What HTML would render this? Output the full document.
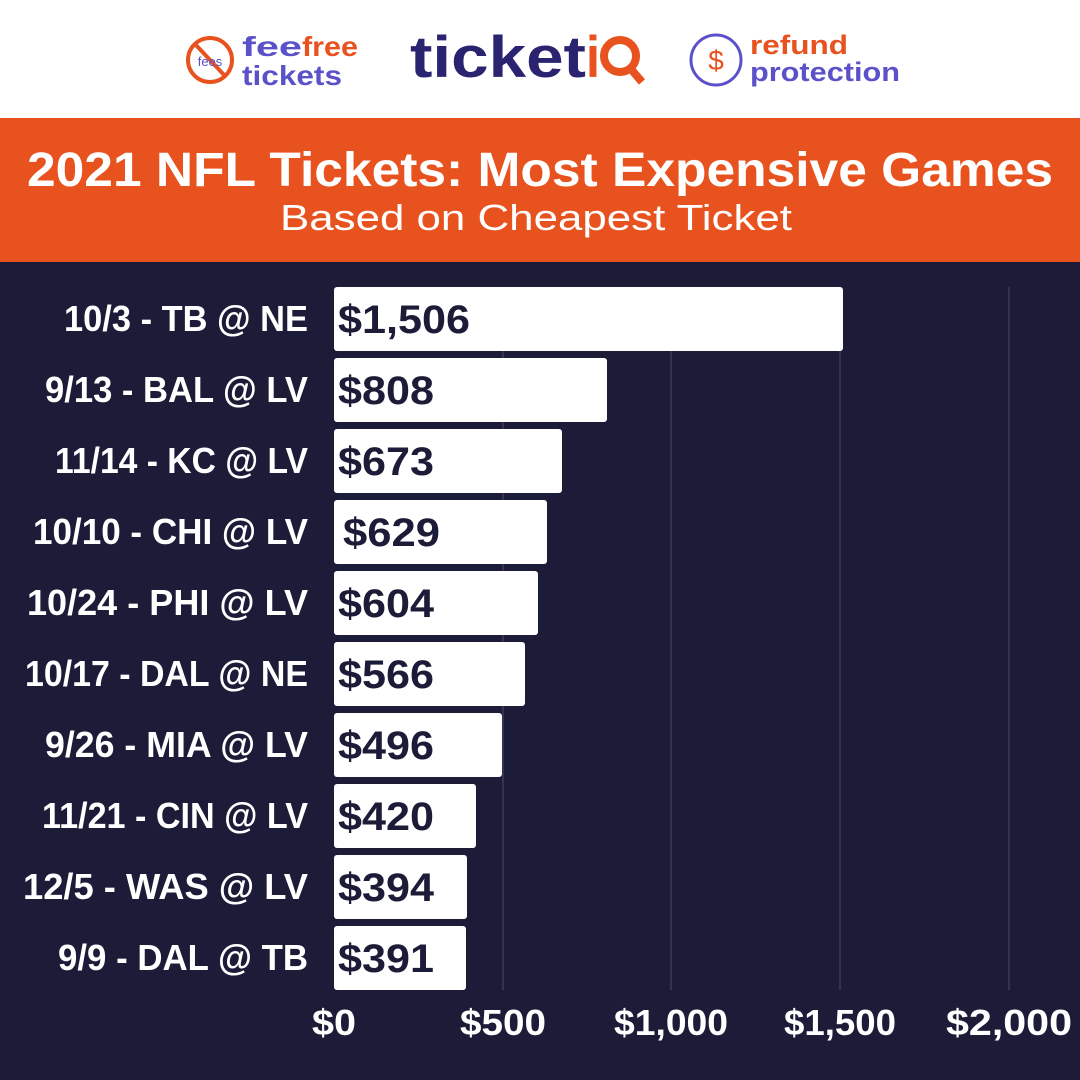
<!DOCTYPE html>
<html><head><meta charset="utf-8"><style>html,body{margin:0;padding:0;width:1080px;height:1080px;overflow:hidden;background:#fff}</style></head>
<body>
<svg width="1080" height="1080" xmlns="http://www.w3.org/2000/svg" font-family="Liberation Sans, sans-serif" font-weight="bold">
<rect x="0" y="0" width="1080" height="118" fill="#fff"/>
<rect x="0" y="118" width="1080" height="145" fill="#E8521E"/>
<rect x="0" y="262" width="1080" height="818" fill="#1D1C38"/>
<!-- logos -->
<circle cx="210" cy="60" r="22" fill="none" stroke="#E8521E" stroke-width="4"/>
<line x1="195" y1="44" x2="225" y2="76" stroke="#E8521E" stroke-width="4"/>
<text x="210" y="66" font-size="13" fill="#5B52C9" text-anchor="middle" font-weight="normal">fees</text>
<text x="242" y="56" font-size="28" fill="#5B52C9" textLength="60" lengthAdjust="spacingAndGlyphs">fee</text>
<text x="302" y="56" font-size="28" fill="#E8521E" textLength="56" lengthAdjust="spacingAndGlyphs">free</text>
<text x="242" y="85" font-size="28" fill="#5B52C9" textLength="100" lengthAdjust="spacingAndGlyphs">tickets</text>
<text x="410" y="77" font-size="58" fill="#2A2470" textLength="176" lengthAdjust="spacingAndGlyphs">ticket</text>
<text x="586" y="77" font-size="58" fill="#E8521E" textLength="14" lengthAdjust="spacingAndGlyphs">i</text>
<circle cx="620" cy="56" r="16" fill="none" stroke="#E8521E" stroke-width="8"/>
<line x1="630" y1="68" x2="642" y2="82" stroke="#E8521E" stroke-width="8"/>
<circle cx="716" cy="60" r="25" fill="none" stroke="#5B52C9" stroke-width="3"/>
<text x="716" y="70" font-size="28" fill="#E8521E" text-anchor="middle" font-weight="normal">$</text>
<text x="750" y="54" font-size="27" fill="#E8521E" textLength="98" lengthAdjust="spacingAndGlyphs">refund</text>
<text x="750" y="81" font-size="27" fill="#5B52C9" textLength="150" lengthAdjust="spacingAndGlyphs">protection</text>
<!-- title -->
<text x="27" y="186" font-size="48" fill="#fff" textLength="1026" lengthAdjust="spacingAndGlyphs">2021 NFL Tickets: Most Expensive Games</text>
<text x="280" y="230" font-size="36" fill="#fff" font-weight="normal" textLength="512" lengthAdjust="spacingAndGlyphs">Based on Cheapest Ticket</text>
<!-- grid -->
<g stroke="#4A4966" stroke-width="1">
<line x1="503" y1="287" x2="503" y2="990"/><line x1="671" y1="287" x2="671" y2="990"/><line x1="840" y1="287" x2="840" y2="990"/><line x1="1009" y1="287" x2="1009" y2="990"/>
</g>
<g fill="#fff">
<rect x="334" y="287" width="509" height="64" rx="3"/>
<rect x="334" y="358" width="273" height="64" rx="3"/>
<rect x="334" y="429" width="228" height="64" rx="3"/>
<rect x="334" y="500" width="213" height="64" rx="3"/>
<rect x="334" y="571" width="204" height="64" rx="3"/>
<rect x="334" y="642" width="191" height="64" rx="3"/>
<rect x="334" y="713" width="168" height="64" rx="3"/>
<rect x="334" y="784" width="142" height="64" rx="3"/>
<rect x="334" y="855" width="133" height="64" rx="3"/>
<rect x="334" y="926" width="132" height="64" rx="3"/>
</g>
<g fill="#fff" font-size="36" text-anchor="end" lengthAdjust="spacingAndGlyphs">
<text x="308" y="331" textLength="244" lengthAdjust="spacingAndGlyphs">10/3 - TB @ NE</text>
<text x="308" y="402" textLength="263" lengthAdjust="spacingAndGlyphs">9/13 - BAL @ LV</text>
<text x="308" y="473" textLength="253" lengthAdjust="spacingAndGlyphs">11/14 - KC @ LV</text>
<text x="308" y="544" textLength="275" lengthAdjust="spacingAndGlyphs">10/10 - CHI @ LV</text>
<text x="308" y="615" textLength="281" lengthAdjust="spacingAndGlyphs">10/24 - PHI @ LV</text>
<text x="308" y="686" textLength="283" lengthAdjust="spacingAndGlyphs">10/17 - DAL @ NE</text>
<text x="308" y="757" textLength="263" lengthAdjust="spacingAndGlyphs">9/26 - MIA @ LV</text>
<text x="308" y="828" textLength="266" lengthAdjust="spacingAndGlyphs">11/21 - CIN @ LV</text>
<text x="308" y="899" textLength="285" lengthAdjust="spacingAndGlyphs">12/5 - WAS @ LV</text>
<text x="308" y="970" textLength="250" lengthAdjust="spacingAndGlyphs">9/9 - DAL @ TB</text>
</g>
<g fill="#1D1C38" font-size="40">
<text x="338" y="333" textLength="132" lengthAdjust="spacingAndGlyphs">$1,506</text>
<text x="338" y="404" textLength="96" lengthAdjust="spacingAndGlyphs">$808</text>
<text x="338" y="475" textLength="96" lengthAdjust="spacingAndGlyphs">$673</text>
<text x="343" y="546" textLength="97" lengthAdjust="spacingAndGlyphs">$629</text>
<text x="338" y="617" textLength="96" lengthAdjust="spacingAndGlyphs">$604</text>
<text x="338" y="688" textLength="96" lengthAdjust="spacingAndGlyphs">$566</text>
<text x="338" y="759" textLength="96" lengthAdjust="spacingAndGlyphs">$496</text>
<text x="338" y="830" textLength="96" lengthAdjust="spacingAndGlyphs">$420</text>
<text x="338" y="901" textLength="96" lengthAdjust="spacingAndGlyphs">$394</text>
<text x="338" y="972" textLength="96" lengthAdjust="spacingAndGlyphs">$391</text>
</g>
<g fill="#fff" font-size="36">
<text x="312" y="1035" textLength="44" lengthAdjust="spacingAndGlyphs">$0</text>
<text x="460" y="1035" textLength="86" lengthAdjust="spacingAndGlyphs">$500</text>
<text x="614" y="1035" textLength="114" lengthAdjust="spacingAndGlyphs">$1,000</text>
<text x="784" y="1035" textLength="112" lengthAdjust="spacingAndGlyphs">$1,500</text>
<text x="946" y="1035" textLength="126" lengthAdjust="spacingAndGlyphs">$2,000</text>
</g>
</svg>
</body></html>
